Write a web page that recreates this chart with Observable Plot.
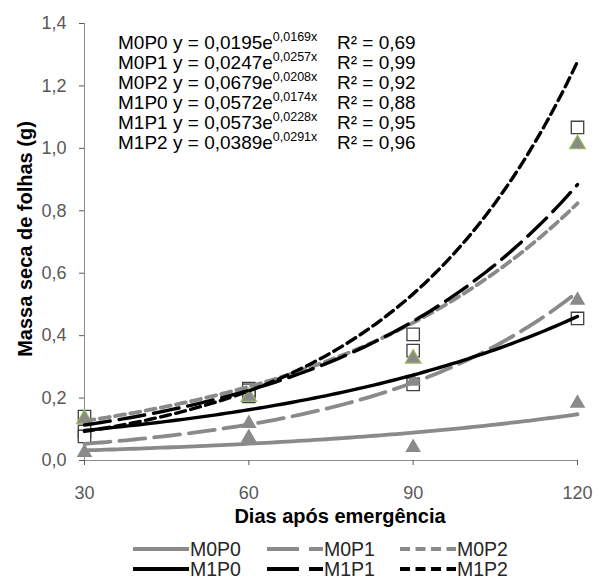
<!DOCTYPE html>
<html><head><meta charset="utf-8">
<script src="https://cdn.jsdelivr.net/npm/d3@7"></script>
<script src="https://cdn.jsdelivr.net/npm/@observablehq/plot@0.6"></script>
<style>
body{margin:0;background:#fff;font-family:"Liberation Sans",Arial,sans-serif;}
#wrap{position:relative;width:600px;height:580px;overflow:hidden;}
.eq{position:absolute;font-size:19px;color:#000;white-space:nowrap;line-height:20px;}
.eq sup{font-size:12.5px;position:relative;top:-2px;vertical-align:top;line-height:12px;}
.lg{position:absolute;font-size:19.5px;color:#262626;white-space:nowrap;line-height:20px;}
</style></head><body><div id="wrap"></div>
<script>
// Data
const days = [30, 60, 90, 120];
const series = ["M0P0", "M0P1", "M0P2", "M1P0", "M1P1", "M1P2"];
// Trendline equations shown on the chart: y = a * e^(b x)
const coefA = [0.0195, 0.0247, 0.0679, 0.0572, 0.0573, 0.0389];
const coefB = [0.0169, 0.0257, 0.0208, 0.0174, 0.0228, 0.0291];
const r2 = [0.69, 0.99, 0.92, 0.88, 0.95, 0.96];
// Observed points (null = not visible)
const obsM0P0 = [0.032, 0.08, 0.048, 0.19];
const obsM0P1 = [null, 0.125, 0.26, 0.52];
const obsM0P2 = [0.14, 0.21, 0.333, 1.02];
const obsM1P0 = [0.093, 0.205, 0.244, 0.455];
const obsM1P1 = [0.141, 0.23, 0.352, null];
const obsM1P2 = [0.077, 0.225, 0.404, 1.067];
const yTicks = [0, 0.2, 0.4, 0.6, 0.8, 1.0, 1.2, 1.4];
const xTicks = [30, 60, 90, 120];
const yTitle = "Massa seca de folhas (g)";
const xTitle = "Dias após emergência";

const obsAll = [obsM0P0, obsM0P1, obsM0P2, obsM1P0, obsM1P1, obsM1P2];
const styles = series.map((s, i) => ({
  stroke: i < 3 ? "#8a8a8a" : "#000",
  width: i < 3 ? 3.8 : 3.4,
  dash: [null, "26,9", "10,5.5"][i % 3]
}));
const obs = series.flatMap((s, i) => days.map((d, j) => ({series: s, m: s.slice(0, 2), day: d, v: obsAll[i][j]}))).filter(d => d.v != null);
const xs = d3.range(30, 120.5, 1);
const curves = series.map((s, i) => xs.map(x => ({x, y: coefA[i] * Math.exp(coefB[i] * x)})));
const comma = (v, n) => v.toFixed(n).replace(".", ",");

const plot = Plot.plot({
  width: 600, height: 535,
  marginLeft: 84, marginRight: 23, marginTop: 23, marginBottom: 75,
  x: {domain: [30, 120]},
  y: {domain: [0, 1.4]},
  style: {fontFamily: "'Liberation Sans', Arial, sans-serif", background: "white", overflow: "visible"},
  marks: [
    Plot.ruleX([30], {stroke: "#8c8c8c", strokeWidth: 1}),
    Plot.ruleY([0], {stroke: "#8c8c8c", strokeWidth: 1}),
    Plot.axisY({ticks: yTicks, tickSize: 5, tickPadding: 13, tickFormat: d => comma(d, 1), fontSize: 18, color: "#595959", label: null}),
    Plot.axisX({ticks: xTicks, tickSize: 5, tickPadding: 21, tickFormat: d => String(d), fontSize: 18, color: "#595959", label: null}),
    Plot.text([yTitle], {frameAnchor: "left", textAnchor: "middle", rotate: -90, dx: -59, dy: -3, fontSize: 20, fontWeight: "bold", fill: "#000"}),
    Plot.text([xTitle], {frameAnchor: "bottom", textAnchor: "middle", dx: 9, dy: 62, fontSize: 20, fontWeight: "bold", fill: "#000"}),
    Plot.dot(obs.filter(d => d.m === "M1"), {x: "day", y: "v", symbol: "square", r: 7, fill: "white", stroke: "#404040", strokeWidth: 1.3}),
    Plot.dot(obs.filter(d => d.m === "M0" && d.series !== "M0P2"), {x: "day", y: "v", symbol: "triangle", r: 5.8, fill: "#8a8a8a", dy: 2}),
    Plot.dot(obs.filter(d => d.series === "M0P2"), {x: "day", y: "v", symbol: "triangle", r: 5.8, fill: "#8a8a8a", stroke: "#9bbb59", strokeWidth: 1.2, dy: 2}),
    ...series.map((s, i) => Plot.line(curves[i], {x: "x", y: "y", stroke: styles[i].stroke, strokeWidth: styles[i].width, strokeDasharray: styles[i].dash}))
  ]
});
const wrap = document.getElementById("wrap");
wrap.appendChild(plot);

// Equations
series.forEach((s, i) => {
  const top = 33 + 20 * i;
  const a = document.createElement("div"); a.className = "eq"; a.style.left = "118px"; a.style.top = top + "px"; a.textContent = s; wrap.appendChild(a);
  const b = document.createElement("div"); b.className = "eq"; b.style.left = "173px"; b.style.top = top + "px";
  b.innerHTML = "y = " + comma(coefA[i], 4) + "e<sup>" + comma(coefB[i], 4) + "x</sup>"; wrap.appendChild(b);
  const c = document.createElement("div"); c.className = "eq"; c.style.left = "337px"; c.style.top = top + "px"; c.textContent = "R² = " + comma(r2[i], 2); wrap.appendChild(c);
});
// Legend
const colL = [133, 267, 400], rowY = [549, 569];
series.forEach((s, i) => {
  const col = i % 3, row = Math.floor(i / 3);
  const ns = "http://www.w3.org/2000/svg";
  const sv = document.createElementNS(ns, "svg");
  sv.setAttribute("width", 56); sv.setAttribute("height", 10);
  sv.style.position = "absolute"; sv.style.left = colL[col] + "px"; sv.style.top = (rowY[row] - 5) + "px";
  const ln = document.createElementNS(ns, "line");
  ln.setAttribute("x1", 0); ln.setAttribute("x2", 56); ln.setAttribute("y1", 5); ln.setAttribute("y2", 5);
  ln.setAttribute("stroke", styles[i].stroke); ln.setAttribute("stroke-width", 4);
  if (styles[i].dash) ln.setAttribute("stroke-dasharray", i % 3 === 1 ? "32,10" : "10,5.5");
  sv.appendChild(ln); wrap.appendChild(sv);
  const t = document.createElement("div"); t.className = "lg"; t.style.left = (colL[col] + 57) + "px"; t.style.top = (rowY[row] - 10) + "px"; t.textContent = s; wrap.appendChild(t);
});
</script></body></html>
